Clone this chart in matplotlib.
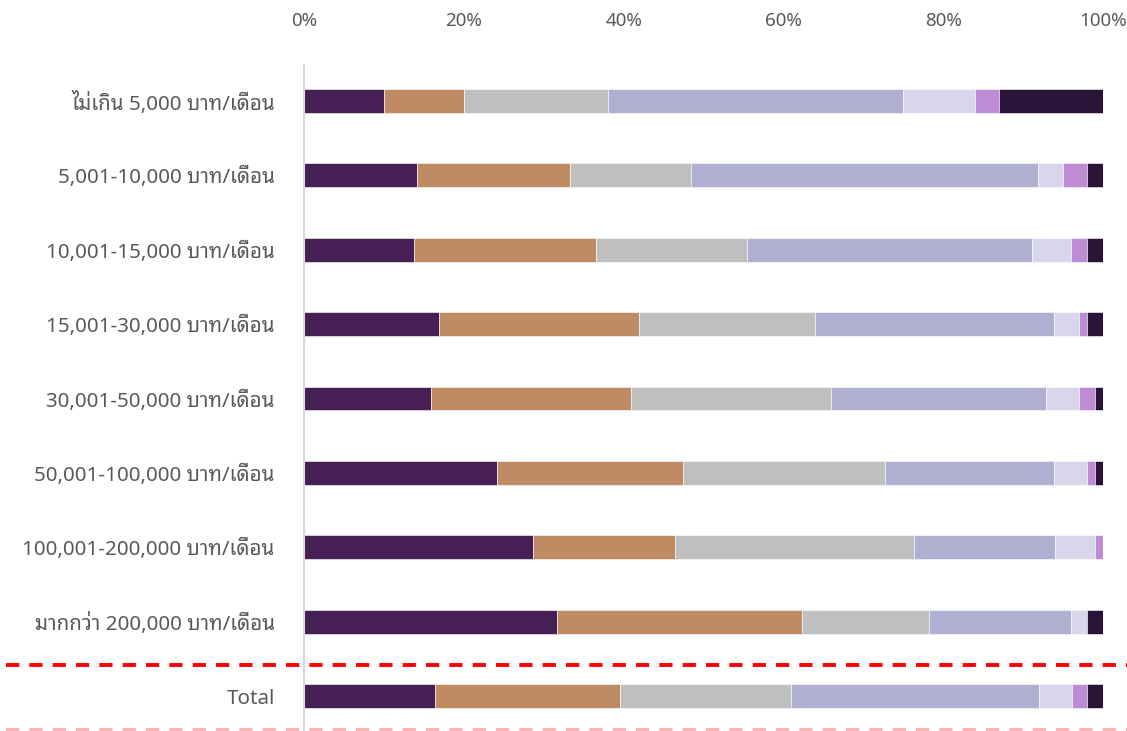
import matplotlib
matplotlib.use("Agg")
import matplotlib.pyplot as plt
from matplotlib.lines import Line2D

categories = ["ไม่เกิน 5,000 บาท/เดือน", "5,001-10,000 บาท/เดือน", "10,001-15,000 บาท/เดือน",
              "15,001-30,000 บาท/เดือน", "30,001-50,000 บาท/เดือน", "50,001-100,000 บาท/เดือน",
              "100,001-200,000 บาท/เดือน", "มากกว่า 200,000 บาท/เดือน", "Total"]

# shares (%) per income group, stacked left to right
s1 = [10.0, 14.1, 13.8, 16.9, 15.9, 24.2, 28.7, 31.7, 16.4]
s2 = [10.0, 19.2, 22.7, 25.0, 25.0, 23.2, 17.7, 30.6, 23.1]
s3 = [18.0, 15.1, 18.9, 22.1, 25.1, 25.3, 29.9, 15.9, 21.4]
s4 = [37.0, 43.5, 35.7, 29.9, 26.9, 21.2, 17.7, 17.8, 31.1]
s5 = [9.0, 3.1, 4.9, 3.1, 4.1, 4.1, 5.0, 2.0, 4.1]
s6 = [3.0, 3.0, 2.0, 1.0, 2.0, 1.0, 1.0, 0.0, 1.9]
s7 = [13.0, 2.0, 2.0, 2.0, 1.0, 1.0, 0.0, 2.0, 2.0]
series = [s1, s2, s3, s4, s5, s6, s7]
colors = ["#462055", "#BE8B65", "#BFBFBF", "#AFAFD1", "#D9D6EB", "#BE8CD4", "#2A1338"]

x_ticks = [0, 20, 40, 60, 80, 100]
x_tick_labels = ["0%", "20%", "40%", "60%", "80%", "100%"]

plt.rcParams["font.family"] = ["Noto Sans", "Noto Sans Thai Looped", "DejaVu Sans"]

fig = plt.figure(figsize=(11.27, 7.31), dpi=100)
ax = fig.add_axes([304 / 1127, 0, (1103 - 304) / 1127, 1 - 65 / 731])

ypos = list(range(len(categories)))
left = [0.0] * len(categories)
for vals, col in zip(series, colors):
    ax.barh(ypos, vals, left=left, height=0.32, color=col, edgecolor="white", linewidth=0.4)
    left = [a + b for a, b in zip(left, vals)]

ax.set_xlim(0, 100)
ax.set_ylim(8.47, -0.484)
ax.set_yticks(ypos)
ax.set_yticklabels(categories)
ax.xaxis.tick_top()
ax.set_xticks(x_ticks)
ax.set_xticklabels(x_tick_labels)
ax.tick_params(axis="both", length=0, colors="#595959")
ax.tick_params(axis="x", pad=25, labelsize=13.5)
ax.tick_params(axis="y", pad=21, labelsize=14.8)
for side in ["top", "right", "bottom"]:
    ax.spines[side].set_visible(False)
ax.spines["left"].set_color("#D9D9D9")
ax.spines["left"].set_linewidth(1.5)

# dashed separator above Total, and the cut-off one at the bottom edge
fig.add_artist(Line2D([6 / 1127, 1], [1 - 665 / 731] * 2, color="red", linewidth=2.8,
                      linestyle=(0, (3.4, 2.6))))
fig.add_artist(Line2D([6 / 1127, 1], [0.001] * 2, color="red", alpha=0.3, linewidth=2.8,
                      linestyle=(0, (3.4, 2.6))))

fig.savefig("out.png", dpi=100)
